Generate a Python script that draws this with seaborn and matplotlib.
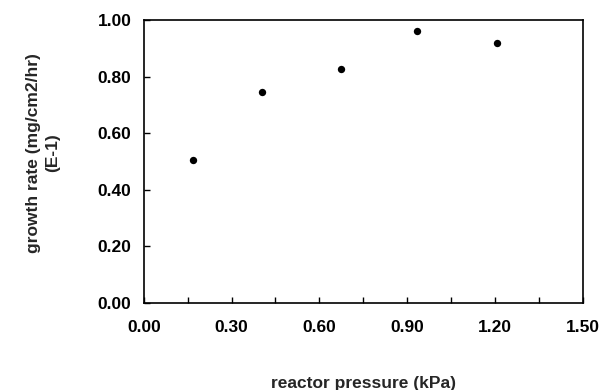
import matplotlib
matplotlib.use("Agg")
import matplotlib.pyplot as plt
import seaborn as sns
import pandas as pd
import numpy as np

pressure = [0.168, 0.404, 0.675, 0.935, 1.205]
growth = [0.505, 0.746, 0.827, 0.961, 0.919]
xticks = [0.00, 0.30, 0.60, 0.90, 1.20, 1.50]
yticks = [0.00, 0.20, 0.40, 0.60, 0.80, 1.00]

sns.set_style("white")
plt.rcParams['font.family'] = ['Liberation Sans', 'DejaVu Sans']
plt.rcParams['font.weight'] = 'bold'

df = pd.DataFrame({"pressure": pressure, "growth": growth})

fig = plt.figure(figsize=(6.04, 3.90), dpi=100)
ax = fig.add_axes([0.238, 0.223, 0.727, 0.726])
sns.scatterplot(data=df, x="pressure", y="growth", ax=ax, color="black",
                s=28, edgecolor="black", linewidth=0, legend=False)

ax.set_xlim(0, 1.5)
ax.set_ylim(0, 1.0)
ax.set_xticks(xticks)
ax.set_xticklabels([f"{v:.2f}" for v in xticks])
ax.set_xticks(np.arange(0.15, 1.5, 0.30), minor=True)
ax.set_yticks(yticks)
ax.set_yticklabels([f"{v:.2f}" for v in yticks])

for s in ax.spines.values():
    s.set_visible(True)
    s.set_color("black")
    s.set_linewidth(1.2)

ax.tick_params(axis="both", which="both", direction="in", length=4, width=1.0,
               colors="black", labelsize=12.5)
ax.tick_params(axis="x", which="both", pad=12, bottom=True)
ax.tick_params(axis="y", pad=9, left=True)
for lab in ax.get_xticklabels() + ax.get_yticklabels():
    lab.set_fontweight("bold")

ax.set_xlabel("reactor pressure (kPa)", fontsize=12.5, fontweight="bold", labelpad=30)
ax.set_ylabel("growth rate (mg/cm2/hr)\n(E-1)", fontsize=12.5, fontweight="bold",
              linespacing=1.35)
ax.yaxis.set_label_coords(-0.19, 0.53)

fig.savefig("out.png", dpi=100, facecolor="white")
